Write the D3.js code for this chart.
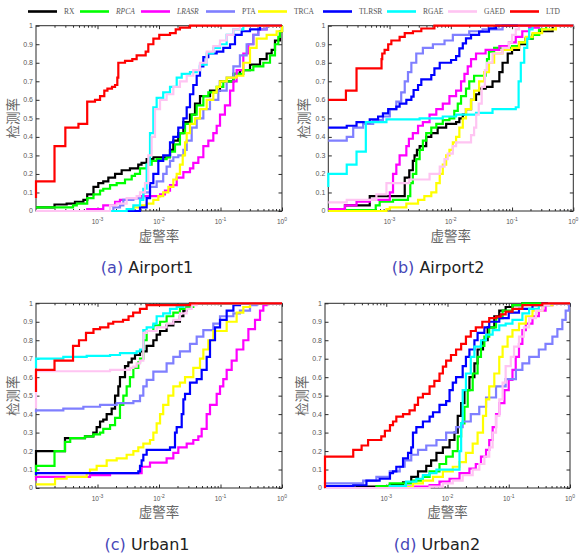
<!DOCTYPE html>
<html>
<head>
<meta charset="utf-8">
<script src="https://cdn.jsdelivr.net/npm/d3@7"></script>
<style>
body { margin: 0; background: #fff; }
svg { display: block; }
</style>
</head>
<body>
<svg id="chart" width="580" height="554"></svg>
<script>
var methods = ["RX", "RPCA", "LRASR", "PTA", "TRCA", "TLRSR", "RGAE", "GAED", "LTD"];
var italicMethods = ["RPCA", "LRASR"];
var colors = ["#000000", "#00ff00", "#ff00ff", "#7f7fff", "#ffff00", "#0000ff", "#00ffff", "#ffc4f2", "#ff0000"];
var yTicks = [0, 0.1, 0.2, 0.3, 0.4, 0.5, 0.6, 0.7, 0.8, 0.9, 1];
var yTickLabels = ["0", "0.1", "0.2", "0.3", "0.4", "0.5", "0.6", "0.7", "0.8", "0.9", "1"];
var xMajor = [1e-3, 1e-2, 1e-1, 1];
var panelTags = ["(a)", "(b)", "(c)", "(d)"];
var panelNames = ["Airport1", "Airport2", "Urban1", "Urban2"];

// [false alarm rate, detection rate], in legend order
var airport1 = [
	[[1e-4,0.02],[2.0e-4,0.035],[3.15e-4,0.04],[4.3e-4,0.05],[5.9e-4,0.06],[6.8e-4,0.09],[8.6e-4,0.13],[1.03e-3,0.15],[1.24e-3,0.16],[1.5e-3,0.18],[1.93e-3,0.2],[2.47e-3,0.22],[3.37e-3,0.23],[4.6e-3,0.25],[5.2e-3,0.26],[6.3e-3,0.28],[8.1e-3,0.29],[1.33e-2,0.29],[1.51e-2,0.33],[1.71e-2,0.38],[2.06e-2,0.42],[2.49e-2,0.48],[3.19e-2,0.52],[3.85e-2,0.58],[4.64e-2,0.62],[6.75e-2,0.65],[9.8e-2,0.7],[0.162,0.74],[0.207,0.76],[0.302,0.79],[0.439,0.82],[0.563,0.85],[0.679,0.87],[0.769,0.92],[0.927,0.97],[1,1]],
	[[1e-4,0.02],[4.0e-4,0.03],[4.6e-4,0.04],[6.8e-4,0.07],[8.6e-4,0.09],[1.1e-3,0.11],[1.24e-3,0.12],[1.6e-3,0.14],[2.05e-3,0.15],[2.8e-3,0.17],[3.6e-3,0.19],[4.07e-3,0.2],[4.91e-3,0.23],[6.3e-3,0.25],[7.6e-3,0.27],[9.2e-3,0.28],[1.33e-2,0.29],[1.51e-2,0.32],[1.82e-2,0.36],[2.19e-2,0.42],[2.65e-2,0.47],[3.4e-2,0.52],[4.1e-2,0.57],[5.26e-2,0.62],[6.34e-2,0.64],[8.67e-2,0.67],[0.111,0.7],[0.162,0.74],[0.235,0.76],[0.342,0.78],[0.497,0.8],[0.638,0.84],[0.769,0.9],[0.871,0.94],[0.927,0.97],[1,1]],
	[[1e-4,0],[6.8e-4,0.01],[1.24e-3,0.03],[1.93e-3,0.05],[2.32e-3,0.06],[3.37e-3,0.07],[4.91e-3,0.08],[1.04e-2,0.09],[1.25e-2,0.11],[1.51e-2,0.14],[1.94e-2,0.18],[2.49e-2,0.21],[3.19e-2,0.23],[3.61e-2,0.26],[4.36e-2,0.29],[5.26e-2,0.35],[6.34e-2,0.38],[7.64e-2,0.42],[8.67e-2,0.46],[9.82e-2,0.52],[0.118,0.57],[0.143,0.65],[0.162,0.7],[0.183,0.76],[0.235,0.85],[0.284,0.9],[0.342,0.95],[0.412,0.98],[0.563,1],[1,1]],
	[[1e-4,0],[1.81e-3,0.02],[2.32e-3,0.03],[2.63e-3,0.06],[3.83e-3,0.07],[5.56e-3,0.1],[7.14e-3,0.13],[9.16e-3,0.16],[1.17e-2,0.2],[1.33e-2,0.24],[1.51e-2,0.27],[1.71e-2,0.29],[2.06e-2,0.3],[2.49e-2,0.33],[2.82e-2,0.38],[3.4e-2,0.45],[4.1e-2,0.5],[5.26e-2,0.55],[6.75e-2,0.6],[9.22e-2,0.65],[0.126,0.72],[0.162,0.78],[0.207,0.84],[0.266,0.9],[0.342,0.95],[0.412,0.98],[0.563,1],[1,1]],
	[[1e-4,0],[3.37e-3,0.01],[3.83e-3,0.02],[4.91e-3,0.03],[6.3e-3,0.04],[8.09e-3,0.06],[9.75e-3,0.08],[1.17e-2,0.1],[1.42e-2,0.13],[1.71e-2,0.17],[1.94e-2,0.2],[2.19e-2,0.25],[2.43e-2,0.3],[2.65e-2,0.37],[2.82e-2,0.42],[3.19e-2,0.47],[3.85e-2,0.5],[4.64e-2,0.55],[5.96e-2,0.6],[7.64e-2,0.64],[8.67e-2,0.67],[9.82e-2,0.7],[0.126,0.72],[0.183,0.73],[0.235,0.8],[0.302,0.88],[0.387,0.93],[0.563,0.95],[0.818,0.97],[1,1]],
	[[1e-4,0],[4.91e-3,0.02],[6.3e-3,0.07],[7.14e-3,0.15],[8.09e-3,0.2],[9.75e-3,0.27],[1.17e-2,0.3],[1.51e-2,0.37],[1.71e-2,0.4],[2.06e-2,0.45],[2.49e-2,0.5],[2.82e-2,0.56],[3.19e-2,0.63],[3.61e-2,0.68],[4.1e-2,0.73],[4.64e-2,0.78],[5.26e-2,0.83],[6.34e-2,0.85],[8.67e-2,0.86],[0.111,0.88],[0.143,0.9],[0.172,0.95],[0.221,0.97],[0.302,0.98],[0.439,1],[1,1]],
	[[1e-4,0],[2.98e-3,0.01],[3.83e-3,0.03],[4.91e-3,0.06],[5.56e-3,0.12],[6.3e-3,0.25],[7.14e-3,0.42],[8.09e-3,0.56],[9.16e-3,0.61],[1.17e-2,0.64],[1.51e-2,0.67],[1.94e-2,0.72],[2.34e-2,0.74],[3.19e-2,0.75],[4.1e-2,0.76],[4.64e-2,0.79],[5.96e-2,0.85],[7.64e-2,0.88],[9.82e-2,0.9],[0.126,0.95],[0.162,0.98],[0.235,1],[1,1]],
	[[1e-4,0],[1.6e-3,0.03],[2.05e-3,0.04],[2.98e-3,0.07],[4.33e-3,0.08],[4.91e-3,0.1],[5.92e-3,0.15],[6.71e-3,0.3],[7.6e-3,0.4],[8.61e-3,0.55],[1.04e-2,0.6],[1.33e-2,0.63],[1.71e-2,0.67],[2.19e-2,0.7],[2.82e-2,0.73],[3.61e-2,0.76],[4.64e-2,0.8],[5.96e-2,0.86],[7.64e-2,0.89],[9.82e-2,0.92],[0.126,0.95],[0.162,0.98],[0.207,1],[1,1]],
	[[1e-4,0.07],[1e-4,0.16],[2.0e-4,0.35],[3.0e-4,0.45],[4.9e-4,0.47],[6.8e-4,0.59],[9.1e-4,0.6],[1.1e-3,0.62],[1.29e-3,0.65],[1.45e-3,0.66],[1.72e-3,0.67],[1.93e-3,0.68],[2.1e-3,0.72],[2.18e-3,0.8],[2.8e-3,0.81],[3.68e-3,0.82],[4.33e-3,0.84],[6.07e-3,0.86],[6.7e-3,0.9],[8.1e-3,0.93],[1.01e-2,0.95],[1.51e-2,0.96],[1.87e-2,0.98],[2.19e-2,0.99],[3.19e-2,1],[1,1]]
];

var airport2 = [
	[[1e-4,0],[1.87e-4,0.03],[4.75e-4,0.08],[1.77e-3,0.18],[2.1e-3,0.22],[2.4e-3,0.27],[2.56e-3,0.3],[2.8e-3,0.33],[3.1e-3,0.35],[3.97e-3,0.4],[4.8e-3,0.42],[6.1e-3,0.45],[8.4e-3,0.47],[1.22e-2,0.48],[1.38e-2,0.5],[1.57e-2,0.52],[1.77e-2,0.55],[2.14e-2,0.6],[2.58e-2,0.63],[2.9e-2,0.66],[3.7e-2,0.67],[4.8e-2,0.7],[6.2e-2,0.75],[7.0e-2,0.8],[8.5e-2,0.85],[0.1,0.87],[0.13,0.9],[0.167,0.93],[0.216,0.95],[0.276,0.97],[0.46,1],[1,1]],
	[[1e-4,0.005],[5.95e-4,0.03],[6.9e-4,0.05],[1.14e-3,0.06],[2.0e-3,0.08],[2.18e-3,0.15],[2.4e-3,0.2],[2.73e-3,0.28],[3.1e-3,0.33],[3.5e-3,0.38],[3.97e-3,0.42],[4.8e-3,0.45],[5.8e-3,0.47],[7.4e-3,0.49],[9.5e-3,0.5],[1.14e-2,0.54],[1.3e-2,0.58],[1.47e-2,0.62],[1.77e-2,0.66],[2.0e-2,0.7],[2.4e-2,0.73],[3.7e-2,0.76],[3.9e-2,0.82],[4.2e-2,0.86],[5.1e-2,0.88],[0.1,0.89],[0.13,0.91],[0.167,0.93],[0.216,0.95],[0.276,0.98],[0.36,1],[1,1]],
	[[1e-4,0.01],[1.87e-4,0.03],[2.89e-4,0.05],[4.75e-4,0.06],[1.01e-3,0.1],[1.14e-3,0.2],[1.29e-3,0.25],[1.46e-3,0.3],[1.88e-3,0.35],[2.07e-3,0.39],[2.4e-3,0.42],[2.92e-3,0.46],[3.5e-3,0.48],[4.5e-3,0.52],[5.8e-3,0.55],[7.4e-3,0.58],[9.5e-3,0.62],[1.22e-2,0.65],[1.47e-2,0.7],[1.67e-2,0.74],[1.89e-2,0.78],[2.14e-2,0.82],[2.58e-2,0.85],[3.7e-2,0.87],[6.2e-2,0.89],[8.9e-2,0.91],[0.115,0.94],[0.147,0.97],[0.19,0.99],[0.276,1],[1,1]],
	[[1e-4,0.38],[2.0e-4,0.4],[2.55e-4,0.45],[3.7e-4,0.47],[5.4e-4,0.49],[7.8e-4,0.51],[1.01e-3,0.55],[1.29e-3,0.59],[1.55e-3,0.64],[1.77e-3,0.7],[2.0e-3,0.75],[2.27e-3,0.8],[2.73e-3,0.85],[3.5e-3,0.88],[5.1e-3,0.9],[7.9e-3,0.92],[1.08e-2,0.95],[2.0e-2,0.97],[3.3e-2,0.98],[7.0e-2,1],[1,1]],
	[[1e-4,0],[8.9e-4,0.01],[1.01e-3,0.02],[1.88e-3,0.04],[2.92e-3,0.06],[3.7e-3,0.08],[4.8e-3,0.1],[5.8e-3,0.15],[6.6e-3,0.2],[7.4e-3,0.25],[8.4e-3,0.3],[9.5e-3,0.33],[1.08e-2,0.37],[1.22e-2,0.4],[1.38e-2,0.45],[1.57e-2,0.5],[1.77e-2,0.55],[2.14e-2,0.6],[2.4e-2,0.65],[2.9e-2,0.7],[3.5e-2,0.75],[4.2e-2,0.8],[5.1e-2,0.85],[7.0e-2,0.87],[0.1,0.88],[0.13,0.91],[0.167,0.94],[0.216,0.96],[0.31,0.98],[0.52,1],[1,1]],
	[[1e-4,0.45],[2.0e-4,0.46],[2.89e-4,0.48],[4.75e-4,0.495],[6.5e-4,0.51],[7.8e-4,0.527],[9.5e-4,0.55],[1.29e-3,0.563],[1.46e-3,0.58],[1.88e-3,0.6],[2.27e-3,0.617],[2.47e-3,0.653],[2.92e-3,0.68],[3.3e-3,0.71],[4.8e-3,0.734],[5.4e-3,0.77],[6.6e-3,0.8],[1.01e-2,0.815],[1.22e-2,0.836],[1.38e-2,0.878],[1.57e-2,0.905],[1.77e-2,0.932],[2.14e-2,0.95],[2.9e-2,0.968],[4.2e-2,0.986],[5.5e-2,1],[1,1]],
	[[1e-4,0.13],[1e-4,0.2],[2.0e-4,0.25],[2.89e-4,0.32],[4.1e-4,0.48],[8.9e-4,0.495],[3.1e-3,0.5],[7.4e-3,0.51],[1.22e-2,0.52],[2.58e-2,0.53],[4.8e-2,0.55],[0.115,0.56],[0.128,0.7],[0.139,0.8],[0.158,0.88],[0.177,0.93],[0.19,0.98],[0.216,1],[1,1]],
	[[1e-4,0.047],[2.0e-4,0.06],[6.1e-4,0.09],[8.9e-4,0.15],[2.1e-3,0.17],[4.5e-3,0.2],[6.6e-3,0.24],[7.9e-3,0.28],[8.9e-3,0.31],[1.08e-2,0.35],[1.22e-2,0.37],[2.14e-2,0.41],[2.4e-2,0.45],[2.6e-2,0.52],[2.86e-2,0.58],[3.2e-2,0.67],[3.6e-2,0.76],[3.9e-2,0.8],[4.8e-2,0.85],[7.0e-2,0.88],[8.9e-2,0.91],[0.1,0.95],[0.115,0.98],[0.13,1],[1,1]],
	[[1e-4,0.6],[1.94e-4,0.65],[2.89e-4,0.77],[7.4e-4,0.82],[7.6e-4,0.85],[8.3e-4,0.87],[9.5e-4,0.9],[1.07e-3,0.92],[1.46e-3,0.94],[1.77e-3,0.96],[2.41e-3,0.97],[3.3e-3,0.985],[5.4e-3,1],[1,1]]
];

var urban1 = [
	[[1e-4,0.1],[1e-4,0.2],[2.96e-4,0.27],[6.26e-4,0.28],[8.55e-4,0.3],[9.69e-4,0.33],[1.1e-3,0.36],[1.24e-3,0.37],[1.41e-3,0.4],[1.7e-3,0.43],[1.93e-3,0.5],[2.18e-3,0.55],[2.32e-3,0.6],[2.8e-3,0.66],[3.17e-3,0.68],[3.6e-3,0.7],[4.07e-3,0.72],[4.91e-3,0.74],[6.3e-3,0.77],[8.09e-3,0.8],[9.16e-3,0.83],[1.04e-2,0.85],[1.33e-2,0.88],[1.71e-2,0.9],[2.19e-2,0.93],[2.49e-2,0.96],[2.82e-2,0.98],[3.19e-2,1],[1,1]],
	[[1e-4,0.06],[1e-4,0.12],[2.0e-4,0.2],[2.96e-4,0.25],[3.6e-4,0.27],[6.26e-4,0.28],[8.55e-4,0.29],[1.1e-3,0.3],[1.24e-3,0.32],[1.6e-3,0.34],[1.93e-3,0.38],[2.32e-3,0.45],[2.63e-3,0.5],[2.98e-3,0.55],[3.37e-3,0.6],[3.83e-3,0.65],[4.61e-3,0.68],[4.91e-3,0.7],[5.56e-3,0.8],[6.3e-3,0.85],[8.09e-3,0.88],[1.04e-2,0.9],[1.33e-2,0.93],[1.71e-2,0.95],[2.19e-2,0.97],[2.82e-2,0.98],[3.61e-2,1],[1,1]],
	[[1e-4,0.04],[1e-4,0.06],[7.55e-4,0.07],[1.6e-3,0.08],[5.22e-3,0.115],[7.14e-3,0.137],[1.33e-2,0.16],[1.71e-2,0.19],[2.06e-2,0.22],[2.82e-2,0.24],[3.61e-2,0.26],[4.36e-2,0.28],[4.94e-2,0.32],[5.96e-2,0.4],[6.75e-2,0.45],[8.67e-2,0.51],[9.82e-2,0.55],[0.111,0.59],[0.126,0.64],[0.152,0.69],[0.183,0.75],[0.235,0.8],[0.284,0.86],[0.364,0.91],[0.439,0.96],[0.497,0.99],[0.563,1],[1,1]],
	[[1e-4,0.41],[1e-4,0.42],[2.78e-4,0.43],[5.89e-4,0.44],[1.1e-3,0.45],[2.05e-3,0.46],[3.83e-3,0.47],[4.91e-3,0.5],[5.56e-3,0.55],[6.3e-3,0.585],[8.09e-3,0.63],[1.33e-2,0.675],[1.71e-2,0.71],[2.19e-2,0.74],[3.19e-2,0.78],[4.1e-2,0.82],[5.26e-2,0.855],[7.64e-2,0.89],[9.82e-2,0.93],[0.162,0.945],[0.207,0.96],[0.302,0.99],[0.387,1],[1,1]],
	[[1e-4,0.02],[2.04e-4,0.05],[3.15e-4,0.06],[6.67e-4,0.08],[7.55e-4,0.1],[9.69e-4,0.12],[1.41e-3,0.15],[2.05e-3,0.16],[2.98e-3,0.18],[3.83e-3,0.2],[4.61e-3,0.22],[5.56e-3,0.24],[7.14e-3,0.26],[8.09e-3,0.3],[9.16e-3,0.35],[1.04e-2,0.4],[1.17e-2,0.45],[1.42e-2,0.5],[1.71e-2,0.55],[2.19e-2,0.57],[2.65e-2,0.6],[3.61e-2,0.65],[4.64e-2,0.7],[5.26e-2,0.75],[6.34e-2,0.8],[7.64e-2,0.85],[0.126,0.9],[0.183,0.95],[0.235,0.98],[0.302,1],[1,1]],
	[[1e-4,0.07],[1e-4,0.08],[4.61e-3,0.09],[4.91e-3,0.12],[5.22e-3,0.15],[5.56e-3,0.18],[6.3e-3,0.206],[1.51e-2,0.22],[1.82e-2,0.3],[1.94e-2,0.33],[2.34e-2,0.4],[2.49e-2,0.48],[2.65e-2,0.51],[3.19e-2,0.57],[4.1e-2,0.59],[4.94e-2,0.64],[5.96e-2,0.71],[6.75e-2,0.8],[8.14e-2,0.87],[9.82e-2,0.91],[0.126,0.96],[0.162,0.99],[0.207,1],[1,1]],
	[[1e-4,0.65],[1e-4,0.7],[2.78e-4,0.71],[6.67e-4,0.715],[1.6e-3,0.72],[2.32e-3,0.73],[4.33e-3,0.74],[4.91e-3,0.75],[5.56e-3,0.855],[6.3e-3,0.87],[8.09e-3,0.89],[9.16e-3,0.93],[1.17e-2,0.945],[1.51e-2,0.97],[1.94e-2,0.98],[2.49e-2,0.99],[3.19e-2,1],[1,1]],
	[[1e-4,0.43],[1e-4,0.632],[1.6e-3,0.64],[3.37e-3,0.65],[3.83e-3,0.657],[4.33e-3,0.675],[4.91e-3,0.69],[5.56e-3,0.84],[6.3e-3,0.85],[9.16e-3,0.87],[1.33e-2,0.89],[1.71e-2,0.91],[2.19e-2,0.945],[2.82e-2,0.97],[3.4e-2,0.99],[4.1e-2,1],[1,1]],
	[[1e-4,0.52],[1e-4,0.64],[2.0e-4,0.69],[4.0e-4,0.77],[5.0e-4,0.8],[6.5e-4,0.84],[8.6e-4,0.86],[1.1e-3,0.87],[1.5e-3,0.89],[1.8e-3,0.9],[2.6e-3,0.91],[3.2e-3,0.93],[3.8e-3,0.95],[4.9e-3,0.97],[6.3e-3,0.99],[3.2e-2,1],[1,1]]
];

var urban2 = [
	[[1e-4,0],[3.27e-4,0.007],[1.14e-3,0.016],[1.88e-3,0.03],[2.56e-3,0.06],[3.3e-3,0.09],[4.5e-3,0.12],[5.4e-3,0.15],[6.6e-3,0.19],[8.4e-3,0.22],[1.08e-2,0.26],[1.3e-2,0.3],[1.47e-2,0.39],[1.67e-2,0.46],[1.89e-2,0.53],[2.28e-2,0.6],[2.75e-2,0.675],[3.1e-2,0.75],[3.8e-2,0.8],[4.53e-2,0.87],[5.81e-2,0.93],[7.0e-2,0.96],[8.9e-2,0.98],[0.115,0.99],[0.167,1],[1,1]],
	[[1e-4,0],[6.9e-4,0.01],[1.14e-3,0.025],[2.73e-3,0.04],[3.97e-3,0.06],[5.1e-3,0.09],[7.4e-3,0.13],[9.5e-3,0.17],[1.22e-2,0.2],[1.47e-2,0.28],[1.67e-2,0.35],[1.89e-2,0.44],[2.14e-2,0.53],[2.58e-2,0.62],[3.1e-2,0.71],[3.52e-2,0.77],[4.0e-2,0.82],[4.8e-2,0.87],[6.2e-2,0.92],[7.94e-2,0.96],[0.115,0.99],[0.167,1],[1,1]],
	[[1e-4,0],[2.1e-3,0.007],[5.1e-3,0.016],[7.4e-3,0.035],[1.08e-2,0.05],[1.57e-2,0.08],[2.28e-2,0.105],[2.9e-2,0.13],[3.52e-2,0.17],[4.26e-2,0.206],[4.8e-2,0.26],[5.46e-2,0.33],[6.2e-2,0.4],[7.0e-2,0.46],[8.5e-2,0.53],[0.1,0.585],[0.115,0.64],[0.13,0.71],[0.147,0.78],[0.167,0.855],[0.19,0.89],[0.244,0.93],[0.31,0.96],[0.4,0.99],[0.516,1],[1,1]],
	[[1e-4,0.02],[1e-4,0.025],[4.2e-4,0.04],[6.9e-4,0.06],[1.14e-3,0.09],[1.66e-3,0.115],[2.0e-3,0.15],[2.56e-3,0.18],[3.3e-3,0.206],[4.5e-3,0.23],[6.6e-3,0.26],[9.5e-3,0.3],[1.38e-2,0.33],[1.77e-2,0.36],[2.4e-2,0.4],[3.3e-2,0.44],[4.26e-2,0.49],[6.2e-2,0.55],[8.9e-2,0.59],[0.131,0.64],[0.167,0.675],[0.216,0.71],[0.31,0.75],[0.398,0.78],[0.516,0.82],[0.622,0.86],[0.75,0.91],[0.85,0.96],[0.964,1],[1,1]],
	[[1e-4,0],[1.14e-3,0.005],[2.73e-3,0.025],[3.97e-3,0.04],[5.8e-3,0.06],[8.4e-3,0.09],[1.22e-2,0.115],[1.57e-2,0.14],[2.0e-2,0.19],[2.58e-2,0.24],[3.1e-2,0.3],[3.8e-2,0.39],[4.26e-2,0.48],[4.8e-2,0.55],[5.81e-2,0.62],[7.0e-2,0.71],[7.94e-2,0.765],[9.57e-2,0.82],[0.115,0.855],[0.147,0.89],[0.19,0.93],[0.244,0.96],[0.355,0.99],[0.516,1],[1,1]],
	[[1e-4,0.01],[2.89e-4,0.015],[4.75e-4,0.04],[7.8e-4,0.05],[1.15e-3,0.08],[1.29e-3,0.09],[1.46e-3,0.115],[1.88e-3,0.16],[2.27e-3,0.19],[2.56e-3,0.22],[2.73e-3,0.3],[3.1e-3,0.33],[3.97e-3,0.36],[5.1e-3,0.386],[5.8e-3,0.41],[7.4e-3,0.45],[9.5e-3,0.47],[1.08e-2,0.53],[1.22e-2,0.57],[1.38e-2,0.6],[1.77e-2,0.66],[2.0e-2,0.71],[2.28e-2,0.75],[2.75e-2,0.8],[3.1e-2,0.84],[4.0e-2,0.87],[4.8e-2,0.9],[7.0e-2,0.92],[0.1,0.95],[0.147,0.97],[0.244,0.99],[0.355,1],[1,1]],
	[[1e-4,0],[1.14e-3,0.01],[2.1e-3,0.035],[3.1e-3,0.05],[3.97e-3,0.07],[5.1e-3,0.08],[6.6e-3,0.1],[1.47e-2,0.1],[1.57e-2,0.2],[1.67e-2,0.35],[1.77e-2,0.53],[2.0e-2,0.62],[2.4e-2,0.71],[2.75e-2,0.765],[3.52e-2,0.8],[4.26e-2,0.83],[5.46e-2,0.855],[7.0e-2,0.88],[8.9e-2,0.89],[0.115,0.91],[0.167,0.945],[0.215,0.97],[0.31,0.99],[0.456,1],[1,1]],
	[[1e-4,0],[5.1e-3,0.007],[8.4e-3,0.025],[1.22e-2,0.04],[1.77e-2,0.07],[2.58e-2,0.1],[3.31e-2,0.13],[4.0e-2,0.17],[4.8e-2,0.22],[5.46e-2,0.3],[6.2e-2,0.39],[7.0e-2,0.48],[7.94e-2,0.57],[8.9e-2,0.66],[0.108,0.71],[0.122,0.765],[0.147,0.82],[0.177,0.87],[0.215,0.92],[0.277,0.96],[0.355,0.99],[0.456,1],[1,1]],
	[[1e-4,0],[1e-4,0.17],[2.89e-4,0.206],[3.96e-4,0.23],[5.05e-4,0.26],[8.3e-4,0.28],[9.5e-4,0.31],[1.15e-3,0.34],[1.29e-3,0.36],[1.46e-3,0.386],[1.88e-3,0.4],[2.4e-3,0.42],[2.92e-3,0.45],[3.3e-3,0.49],[3.97e-3,0.51],[5.1e-3,0.55],[6.1e-3,0.58],[7.4e-3,0.62],[8.4e-3,0.657],[9.5e-3,0.69],[1.14e-2,0.72],[1.38e-2,0.75],[1.67e-2,0.78],[2.0e-2,0.82],[2.4e-2,0.85],[2.9e-2,0.87],[3.7e-2,0.9],[4.8e-2,0.92],[6.2e-2,0.928],[7.4e-2,0.94],[8.9e-2,0.955],[0.115,0.97],[0.167,0.99],[0.353,1],[1,1]]
];

var panelData = [airport1, airport2, urban1, urban2];

// plot boxes in page pixels
var layout = [
	{ left: 36, right: 282, top: 25.7, bottom: 211, yLabelX: 13, xLabelY: 236, capX: 147, capY: 273 },
	{ left: 328.3, right: 573.3, top: 25.7, bottom: 211, yLabelX: 304, xLabelY: 236, capX: 438, capY: 273 },
	{ left: 36, right: 282, top: 303.3, bottom: 488, yLabelX: 13, xLabelY: 512.5, capX: 147, capY: 549.5 },
	{ left: 325, right: 570, top: 303.3, bottom: 488, yLabelX: 302, xLabelY: 512.5, capX: 437, capY: 549.5 }
];
var legendX = [28, 80, 141, 206, 258, 323, 387, 448, 510];

var svg = d3.select("#chart");
var axisColor = "#2b2b2b";
var labelColor = "#555";

drawLegend();
layout.forEach(function(p, i) {
	drawPanel(p, panelData[i], i);
});

function drawLegend() {
	var g = svg.append("g").attr("class", "legend");
	methods.forEach(function(m, i) {
		g.append("line")
			.attr("x1", legendX[i])
			.attr("x2", legendX[i] + 29)
			.attr("y1", 11.5)
			.attr("y2", 11.5)
			.attr("stroke", colors[i])
			.attr("stroke-width", 2.6);
		g.append("text")
			.attr("x", legendX[i] + 36)
			.attr("y", 14)
			.attr("font-family", "'Liberation Serif', 'DejaVu Serif', serif")
			.attr("font-size", 7.5)
			.attr("font-style", italicMethods.indexOf(m) >= 0 ? "italic" : "normal")
			.attr("fill", labelColor)
			.text(m);
	});
}

function drawPanel(p, series, idx) {
	var x = d3.scaleLog().domain([1e-4, 1]).range([p.left, p.right]);
	var y = d3.scaleLinear().domain([0, 1]).range([p.bottom, p.top]);
	var g = svg.append("g").attr("class", "panel");

	var minor = x.ticks().filter(function(d) {
		return xMajor.indexOf(d) < 0 && Math.abs(Math.log10(d) - Math.round(Math.log10(d))) > 1e-9;
	});

	function tidy(sel) {
		sel.select(".domain").remove();
		sel.selectAll("line").attr("stroke", axisColor);
	}

	g.append("g").attr("transform", "translate(0," + p.bottom + ")")
		.call(d3.axisBottom(x).tickValues(minor).tickSize(-2).tickFormat("")).call(tidy);
	g.append("g").attr("transform", "translate(0," + p.bottom + ")")
		.call(d3.axisBottom(x).tickValues(xMajor).tickSize(-3.5).tickFormat("")).call(tidy);
	g.append("g").attr("transform", "translate(0," + p.top + ")")
		.call(d3.axisTop(x).tickValues(minor).tickSize(-2).tickFormat("")).call(tidy);
	g.append("g").attr("transform", "translate(0," + p.top + ")")
		.call(d3.axisTop(x).tickValues(xMajor).tickSize(-3.5).tickFormat("")).call(tidy);
	g.append("g").attr("transform", "translate(" + p.left + ",0)")
		.call(d3.axisLeft(y).tickValues(yTicks).tickSize(-3.5).tickFormat("")).call(tidy);
	g.append("g").attr("transform", "translate(" + p.right + ",0)")
		.call(d3.axisRight(y).tickValues(yTicks).tickSize(-3.5).tickFormat("")).call(tidy);

	g.append("rect")
		.attr("x", p.left)
		.attr("y", p.top)
		.attr("width", p.right - p.left)
		.attr("height", p.bottom - p.top)
		.attr("fill", "none")
		.attr("stroke", axisColor)
		.attr("stroke-width", 1);

	// y tick labels
	g.selectAll("text.ylab")
		.data(yTicks)
		.enter()
		.append("text")
		.attr("class", "ylab")
		.attr("x", p.left - 3)
		.attr("y", function(d) {
			return y(d);
		})
		.attr("dy", "0.35em")
		.attr("text-anchor", "end")
		.attr("font-family", "'Liberation Sans', Arial, sans-serif")
		.attr("font-size", 7)
		.attr("fill", labelColor)
		.text(function(d, i) {
			return yTickLabels[i];
		});

	// x tick labels 10^n
	g.selectAll("text.xlab")
		.data(xMajor)
		.enter()
		.append("text")
		.attr("class", "xlab")
		.attr("x", function(d) {
			return x(d);
		})
		.attr("y", p.bottom + 12.5)
		.attr("text-anchor", "middle")
		.attr("font-family", "'Liberation Sans', Arial, sans-serif")
		.attr("font-size", 6.5)
		.attr("fill", labelColor)
		.each(function(d) {
			var t = d3.select(this);
			t.append("tspan").text("10");
			t.append("tspan")
				.attr("dy", -3)
				.attr("font-size", 5)
				.text(String(Math.round(Math.log10(d))));
		});

	var line = d3.line()
		.curve(d3.curveStepAfter)
		.x(function(d) {
			return x(d[0]);
		})
		.y(function(d) {
			return y(d[1]);
		});

	series.forEach(function(pts, i) {
		g.append("path")
			.datum(pts)
			.attr("d", line)
			.attr("fill", "none")
			.attr("stroke", colors[i])
			.attr("stroke-width", 2.2)
			.attr("stroke-linejoin", "miter");
	});

	var cjk = "'Noto Sans CJK SC', sans-serif";
	g.append("text")
		.attr("x", (p.left + p.right) / 2)
		.attr("y", p.xLabelY)
		.attr("dy", "0.35em")
		.attr("text-anchor", "middle")
		.attr("font-family", cjk)
		.attr("font-size", 13.5)
		.attr("fill", "#666")
		.text("虚警率");

	g.append("text")
		.attr("transform", "translate(" + p.yLabelX + "," + ((p.top + p.bottom) / 2) + ") rotate(-90)")
		.attr("dy", "0.35em")
		.attr("text-anchor", "middle")
		.attr("font-family", cjk)
		.attr("font-size", 13.5)
		.attr("fill", "#666")
		.text("检测率");

	var cap = g.append("text")
		.attr("x", p.capX)
		.attr("y", p.capY)
		.attr("text-anchor", "middle")
		.attr("font-family", "'DejaVu Sans', sans-serif")
		.attr("font-size", 16);
	cap.append("tspan").attr("fill", "#4747b8").text(panelTags[idx]);
	cap.append("tspan").attr("fill", "#222").text(" " + panelNames[idx]);
}
</script>
</body>
</html>
